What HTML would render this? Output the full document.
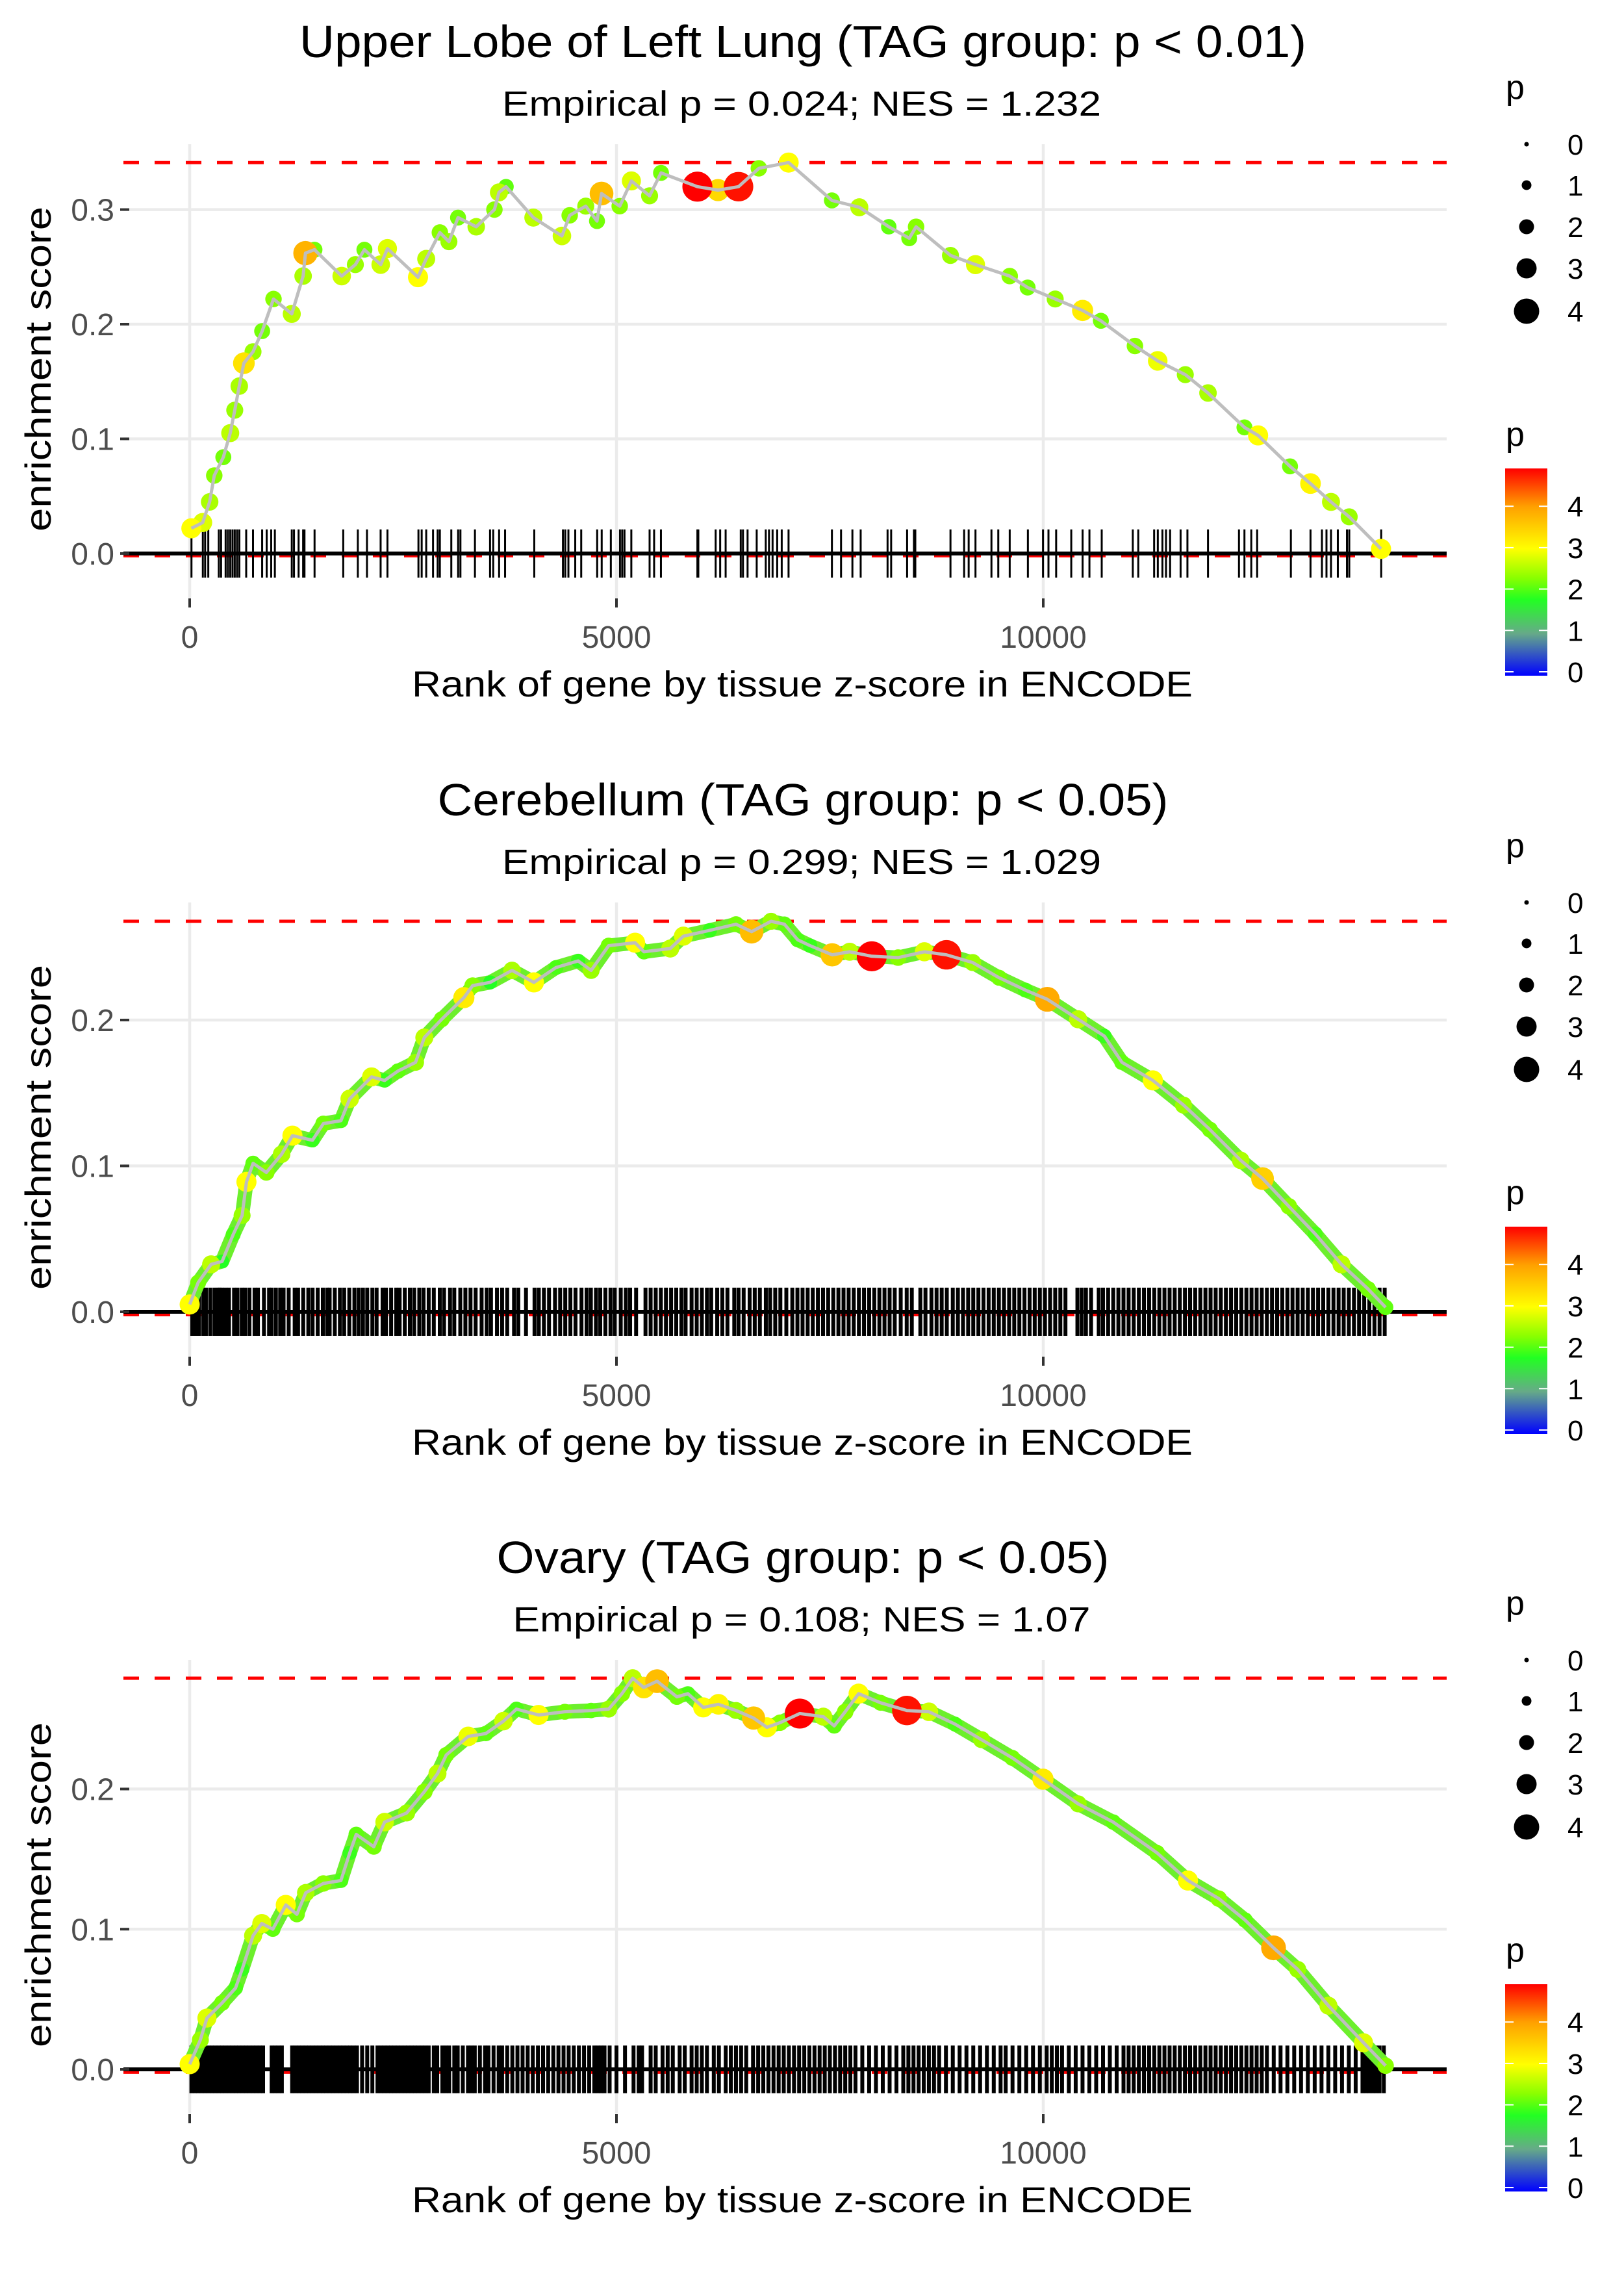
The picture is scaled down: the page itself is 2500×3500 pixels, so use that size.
<!DOCTYPE html>
<html><head><meta charset="utf-8"><style>
html,body{margin:0;padding:0;background:#fff}
svg{display:block}
text{font-family:"Liberation Sans",sans-serif}
</style></head><body>
<svg id="fig" xmlns="http://www.w3.org/2000/svg" width="2500" height="3500" viewBox="0 0 2500 3500">
<defs>
<linearGradient id="pgrad" x1="0" y1="1" x2="0" y2="0">
<stop offset="0" stop-color="#0000ff"/><stop offset="0.204" stop-color="#66aa88"/><stop offset="0.367" stop-color="#22ff22"/><stop offset="0.47" stop-color="#88ff00"/><stop offset="0.612" stop-color="#ffff00"/><stop offset="0.816" stop-color="#ffa000"/><stop offset="1" stop-color="#ff0000"/>
</linearGradient>
</defs>
</svg>
<script>
const titles = ["Upper Lobe of Left Lung (TAG group: p < 0.01)","Cerebellum (TAG group: p < 0.05)","Ovary (TAG group: p < 0.05)"];
const subtitles = ["Empirical p = 0.024; NES = 1.232","Empirical p = 0.299; NES = 1.029","Empirical p = 0.108; NES = 1.07"];
const titleWidths = [1550,1125,943];
const subtitleWidths = [922,922,889];
const xTicks = [0,5000,10000];
const yTicks1 = [0.0,0.1,0.2,0.3];
const yTicks2 = [0.0,0.1,0.2];
const yTicks3 = [0.0,0.1,0.2];
const yDomain1 = [-0.0386,0.357];
const yDomain2 = [-0.0303,0.2806];
const yDomain3 = [-0.0315,0.292];
const rugHalf = [0.021,0.0165,0.017];
const minES = [-0.002,-0.002,-0.002];
const sizeLegend = [0,1,2,3,4];
const colorLegend = [0,1,2,3,4];

const p1Rank = [20,152,234,288,394,475,528,581,635,742,849,982,1196,1329,1356,1462,1781,1941,2047,2238,2317,2675,2771,2931,3037,3144,3357,3570,3623,3706,4026,4361,4452,4640,4772,4825,5038,5175,5388,5522,5948,6190,6430,6668,7017,7524,7845,8190,8430,8510,8913,9206,9607,9817,10140,10461,10675,11074,11341,11664,11930,12357,12517,12891,13131,13371,13584,13957];
const p1ES = [.022,.027,.045,.068,.084,.105,.125,.146,.166,.176,.194,.222,.209,.242,.262,.265,.242,.252,.265,.252,.266,.241,.257,.280,.272,.293,.285,.300,.315,.320,.293,.277,.295,.303,.290,.314,.303,.325,.312,.332,.320,.317,.320,.336,.341,.308,.302,.285,.275,.285,.260,.252,.242,.232,.222,.212,.203,.181,.168,.156,.140,.110,.103,.076,.061,.045,.032,.004];
const p1P = [3.0,2.8,2.5,2.3,2.2,2.6,2.4,2.5,3.3,2.4,2.2,2.3,2.6,2.5,3.8,2.2,2.7,2.4,2.2,2.7,2.8,3.0,2.6,2.3,2.4,2.2,2.5,2.3,2.6,2.1,2.6,2.7,2.3,2.4,2.2,3.7,2.3,2.8,2.4,2.2,4.9,3.4,4.8,2.3,3.0,2.2,2.6,2.1,2.2,2.3,2.4,2.8,2.3,2.2,2.4,3.2,2.2,2.3,2.9,2.4,2.5,2.2,3.0,2.2,3.1,2.6,2.4,3.0];
const p1Rug = [21,154,181,218,341,368,421,448,475,502,528,555,582,662,742,849,902,955,998,1196,1222,1276,1329,1345,1463,1799,1970,2077,2237,2317,2680,2718,2771,2851,2905,2931,3065,3145,3172,3342,3519,3556,3625,3695,4037,4373,4400,4437,4517,4587,4774,4827,4934,5041,5067,5094,5174,5388,5441,5521,5948,5959,6162,6215,6279,6456,6482,6536,6643,6749,6787,6829,6883,6936,7016,7524,7631,7764,7861,8176,8218,8405,8485,8501,8913,9073,9126,9206,9393,9473,9607,9820,9997,10061,10151,10328,10461,10541,10685,11049,11113,11299,11342,11396,11438,11486,11609,11689,11930,12293,12357,12437,12506,12901,13131,13265,13318,13371,13451,13558,13585,13959];

const p2Rank = [0,99,251,380,510,614,665,743,898,1077,1204,1438,1566,1772,1875,2131,2284,2440,2646,2749,2953,3212,3315,3520,3776,4033,4292,4551,4703,4909,5218,5322,5630,5784,6093,6400,6583,6811,6967,7123,7268,7527,7732,7991,8299,8607,8866,9173,9482,9791,10047,10409,10716,10922,11284,11643,11952,12313,12569,12877,13186,13494,13805,14011];
const p2ES = [.005,.020,.0325,.0345,.053,.066,.089,.1017,.0955,.108,.1207,.1176,.129,.131,.146,.161,.1586,.165,.171,.188,.2005,.2153,.2236,.2258,.234,.2258,.236,.2405,.234,.251,.253,.2468,.249,.2575,.2615,.2657,.2606,.2677,.2657,.255,.251,.2447,.2468,.2437,.2428,.2468,.2447,.2394,.229,.2205,.2142,.2005,.189,.171,.1586,.1417,.1249,.1038,.0913,.0723,.0534,.0325,.0156,.003];
const p2P = [3.0,2.2,2.6,1.8,2.0,2.4,3.0,2.1,2.3,2.5,3.0,1.9,2.2,2.0,2.7,2.8,1.9,2.1,2.4,2.6,2.2,3.2,2.3,1.8,2.5,3.0,2.0,1.9,2.4,2.2,3.0,2.1,2.6,2.8,1.9,2.2,3.7,2.4,2.1,2.0,1.9,3.6,2.6,4.9,2.3,2.8,4.8,2.4,2.2,2.0,3.9,2.6,1.9,2.1,3.0,2.4,2.2,2.5,3.5,2.3,2.0,2.6,2.2,2.1];
const p2Rug = [30,70,110,160,190,240,290,330,350,380,420,460,520,560,610,650,700,760,800,870,930,960,1010,1060,1100,1160,1230,1270,1330,1390,1440,1500,1560,1610,1640,1700,1760,1810,1870,1930,1980,2030,2080,2140,2190,2260,2300,2360,2420,2460,2520,2580,2630,2690,2740,2800,2860,2930,2980,3050,3100,3170,3230,3290,3350,3420,3480,3530,3600,3660,3720,3800,3850,3940,4040,4090,4150,4210,4280,4340,4400,4460,4520,4590,4650,4700,4760,4810,4870,4930,4980,5050,5110,5160,5230,5340,5400,5460,5520,5580,5640,5700,5760,5810,5880,5940,6000,6060,6110,6180,6240,6300,6380,6430,6490,6560,6620,6680,6750,6800,6860,6920,6990,7060,7120,7180,7240,7300,7360,7420,7480,7540,7600,7660,7720,7780,7840,7900,7960,8020,8080,8140,8200,8260,8330,8400,8460,8560,8620,8690,8750,8810,8870,8940,9000,9060,9120,9180,9240,9300,9360,9420,9480,9540,9600,9660,9720,9780,9840,9900,9960,10020,10080,10140,10200,10260,10400,10450,10500,10560,10650,10700,10760,10820,10880,10940,11000,11060,11120,11180,11240,11300,11360,11420,11480,11540,11600,11660,11720,11780,11840,11900,11960,12020,12080,12140,12200,12260,12320,12380,12440,12500,12560,12620,12680,12740,12800,12860,12920,12980,13040,13100,13160,13220,13280,13340,13400,13460,13520,13580,13640,13700,13760,13820,13880,13940,14000];

const p3Rank = [0,125,202,380,537,614,743,845,974,1126,1256,1360,1566,1772,1875,1951,2157,2284,2542,2749,2903,3006,3263,3470,3676,3828,4087,4395,4703,4909,5064,5190,5320,5476,5708,5836,6016,6195,6401,6606,6762,6917,7147,7423,7551,7679,7837,8094,8402,8660,8966,9277,9637,9997,10409,10820,11333,11695,12056,12364,12698,12981,13341,13752,14011];
const p3ES = [.0037,.021,.0366,.0474,.058,.0713,.0954,.104,.100,.1173,.1106,.126,.1326,.1347,.1544,.1676,.1588,.1764,.1829,.198,.211,.2243,.2375,.2396,.2484,.257,.2528,.2551,.256,.257,.268,.279,.2724,.2769,.2657,.268,.2582,.2604,.256,.2506,.244,.2473,.2538,.2516,.245,.255,.268,.2615,.256,.2551,.2463,.2352,.2222,.207,.1894,.1764,.1544,.1347,.1218,.1065,.0867,.0713,.0454,.019,.0026];
const p3P = [3.0,2.4,2.8,2.2,2.0,1.9,2.6,2.8,2.1,3.0,2.2,2.5,2.3,2.0,1.9,2.1,2.2,2.7,2.4,2.3,2.6,2.2,2.9,2.1,2.7,2.0,3.0,2.2,2.1,2.4,2.3,2.6,3.3,3.7,2.2,2.0,3.0,3.1,2.4,3.6,3.0,2.3,4.9,2.6,2.1,2.3,3.0,2.2,4.8,2.7,2.0,2.4,2.2,3.2,2.4,2.1,2.2,3.0,2.3,2.1,3.9,2.4,2.6,2.8,2.3];
const p3Rug = [20,60,100,140,180,220,260,300,340,380,420,460,500,540,580,620,660,700,740,780,820,860,960,1000,1040,1080,1200,1240,1280,1320,1360,1400,1440,1480,1520,1560,1600,1640,1680,1720,1760,1800,1840,1880,1920,1960,2020,2080,2140,2200,2240,2280,2320,2360,2400,2440,2480,2520,2560,2600,2640,2680,2720,2760,2800,2860,2900,2960,3000,3040,3100,3140,3200,3260,3300,3340,3400,3460,3500,3560,3620,3660,3720,3780,3840,3900,3960,4020,4080,4140,4200,4260,4320,4380,4440,4500,4560,4620,4680,4740,4780,4820,4860,4920,5000,5100,5200,5260,5300,5400,5460,5540,5600,5660,5740,5800,5880,5940,6000,6060,6140,6200,6280,6340,6400,6460,6520,6600,6660,6720,6780,6840,6900,6960,7020,7080,7140,7200,7260,7320,7380,7440,7500,7560,7620,7680,7740,7800,7880,7960,8040,8120,8200,8280,8360,8420,8480,8540,8600,8660,8720,8780,8860,8940,9020,9100,9180,9260,9340,9420,9500,9560,9640,9720,9800,9880,9960,10040,10100,10160,10220,10300,10380,10460,10540,10620,10700,10780,10860,10940,11000,11060,11120,11180,11240,11300,11360,11420,11480,11540,11600,11660,11720,11780,11840,11900,11960,12020,12080,12140,12200,12260,12320,12380,12440,12500,12560,12620,12700,12780,12860,12940,13020,13100,13180,13260,13340,13420,13500,13580,13660,13740,13780,13820,13860,13900,13940,13990];

const svg = document.getElementById('fig');
const NS = 'http://www.w3.org/2000/svg';
function mk(tag, attrs, parent){
  const e = document.createElementNS(NS, tag);
  for (const k in attrs) e.setAttribute(k, attrs[k]);
  (parent||svg).appendChild(e);
  return e;
}
const stops = [[0,[0,0,255]],[1,[102,170,136]],[1.8,[34,255,34]],[2.3,[136,255,0]],[3,[255,255,0]],[4,[255,160,0]],[4.9,[255,0,0]]];
function pColor(p){
  if (p<=stops[0][0]) return 'rgb(0,0,255)';
  for (let i=1;i<stops.length;i++){
    if (p<=stops[i][0]){
      const a=stops[i-1], b=stops[i], t=(p-a[0])/(b[0]-a[0]);
      const c=a[1].map((v,j)=>Math.round(v+(b[1][j]-v)*t));
      return 'rgb('+c.join(',')+')';
    }
  }
  return 'rgb(255,0,0)';
}
function pRadius(p){ return 3.5 + 4*p; }

const PL = 190, PR = 2227, PT = 222, PB = 920;
const X0 = 292, XS = 0.1314;
function xScale(r){ return X0 + r*XS; }

const panels = [
  {rank:p1Rank, es:p1ES, p:p1P, rug:p1Rug, dom:yDomain1, ticks:yTicks1, dense:false},
  {rank:p2Rank, es:p2ES, p:p2P, rug:p2Rug, dom:yDomain2, ticks:yTicks2, dense:true},
  {rank:p3Rank, es:p3ES, p:p3P, rug:p3Rug, dom:yDomain3, ticks:yTicks3, dense:true}
];

panels.forEach((pd, i) => {
  const oy = Math.round(i*1166.67);
  const g = mk('g', {transform:'translate(0,'+oy+')'});
  
  
  const yScale = v => PB - (v - pd.dom[0])/(pd.dom[1]-pd.dom[0])*(PB-PT);

  const t = mk('text', {x:1236, y:88, 'text-anchor':'middle', 'font-size':70, fill:'#000', textLength:titleWidths[i], lengthAdjust:'spacingAndGlyphs'}, g);
  t.textContent = titles[i];
  
  
  const st = mk('text', {x:1234, y:178, 'text-anchor':'middle', 'font-size':54, fill:'#000', textLength:subtitleWidths[i], lengthAdjust:'spacingAndGlyphs'}, g);
  st.textContent = subtitles[i];
  
  

  pd.ticks.forEach(v => {
    const l = mk('line', {x1:PL, x2:PR, y1:yScale(v), y2:yScale(v), stroke:'#ebebeb', 'stroke-width':4.5}, g);
    
    
  });
  xTicks.forEach(v => {
    const l = mk('line', {x1:xScale(v), x2:xScale(v), y1:PT, y2:PB, stroke:'#ebebeb', 'stroke-width':4.5}, g);
    
    
  });

  const maxES = Math.max(...pd.es);
  [maxES, minES[i]].forEach((v, k) => {
    const l = mk('line', {x1:PL, x2:PR, y1:yScale(v), y2:yScale(v), stroke:'#ff0000', 'stroke-width':5, 'stroke-dasharray':'24 24'}, g);
    
    
  });

  const rg = mk('g', {}, g);
  
  
  pd.rug.forEach(r => {
    const l = mk('line', {x1:xScale(r), x2:xScale(r), y1:yScale(rugHalf[i]), y2:yScale(-rugHalf[i]), stroke:'#000', 'stroke-width': pd.dense ? 6 : 3}, rg);
    
    
  });
  const z = mk('line', {x1:PL, x2:PR, y1:yScale(0), y2:yScale(0), stroke:'#000', 'stroke-width':6}, g);
  
  

  const pts = pd.rank.map((r, k) => xScale(r).toFixed(1)+','+yScale(pd.es[k]).toFixed(1)).join(' ');
  if (pd.dense){
    const band = mk('polyline', {points:pts, fill:'none', stroke:'#6cef2c', 'stroke-width':22, 'stroke-linejoin':'round', 'stroke-linecap':'round'}, g);
    
    
  }
  const dg = mk('g', {}, g);
  
  
  pd.rank.map((r,k)=>k).sort((a,b)=>pd.p[a]-pd.p[b]).forEach(k => {
    const c = mk('circle', {cx:xScale(pd.rank[k]), cy:yScale(pd.es[k]), r:pRadius(pd.p[k]), fill:pColor(pd.p[k])}, dg);
    
    
  });
  const line = mk('polyline', {points:pts, fill:'none', stroke:'#bebebe', 'stroke-width':5, 'stroke-linejoin':'round'}, g);
  
  

  pd.ticks.forEach(v => {
    const tk = mk('line', {x1:185, x2:199, y1:yScale(v), y2:yScale(v), stroke:'#333', 'stroke-width':4}, g);
    
    
    const tl = mk('text', {x:176, y:yScale(v)+17, 'text-anchor':'end', 'font-size':48, fill:'#4d4d4d'}, g);
    tl.textContent = v.toFixed(1);
    
    
  });
  xTicks.forEach(v => {
    const tk = mk('line', {x1:xScale(v), x2:xScale(v), y1:PB+1, y2:PB+15, stroke:'#333', 'stroke-width':4}, g);
    
    
    const tl = mk('text', {x:xScale(v), y:PB+77, 'text-anchor':'middle', 'font-size':48, fill:'#4d4d4d'}, g);
    tl.textContent = String(v);
    
    
  });
  const xl = mk('text', {x:1235, y:1072, 'text-anchor':'middle', 'font-size':56, fill:'#000', textLength:1202, lengthAdjust:'spacingAndGlyphs'}, g);
  xl.textContent = 'Rank of gene by tissue z-score in ENCODE';
  
  
  const yl = mk('text', {x:0, y:0, transform:'translate(78,568) rotate(-90)', 'text-anchor':'middle', 'font-size':56, fill:'#000', textLength:500, lengthAdjust:'spacingAndGlyphs'}, g);
  yl.textContent = 'enrichment score';
  
  

  const sl = mk('g', {}, g);
  
  
  const slt = mk('text', {x:2318, y:152, 'font-size':52, fill:'#000'}, sl);
  slt.textContent = 'p';
  
  
  const sy = [222,285,349,413,479];
  sizeLegend.forEach((v, k) => {
    const c = mk('circle', {cx:2350, cy:sy[k], r:pRadius(v), fill:'#000'}, sl);
    
    
    const tl = mk('text', {x:2413, y:sy[k]+16, 'font-size':44, fill:'#000'}, sl);
    tl.textContent = String(v);
    
    
  });

  const cl = mk('g', {}, g);
  
  
  const clt = mk('text', {x:2318, y:686, 'font-size':52, fill:'#000'}, cl);
  clt.textContent = 'p';
  
  
  const bar = mk('rect', {x:2317, y:721, width:65, height:319, fill:'url(#pgrad)'}, cl);
  
  
  const cbY = v => 1034 - v*63.7;
  colorLegend.forEach(v => {
    const a = mk('line', {x1:2317, x2:2330, y1:cbY(v), y2:cbY(v), stroke:'#fff', 'stroke-width':2}, cl);
    
    
    const b = mk('line', {x1:2369, x2:2382, y1:cbY(v), y2:cbY(v), stroke:'#fff', 'stroke-width':2}, cl);
    
    
    const tl = mk('text', {x:2413, y:cbY(v)+16, 'font-size':44, fill:'#000'}, cl);
    tl.textContent = String(v);
    
    
  });
});
</script>
</body></html>
